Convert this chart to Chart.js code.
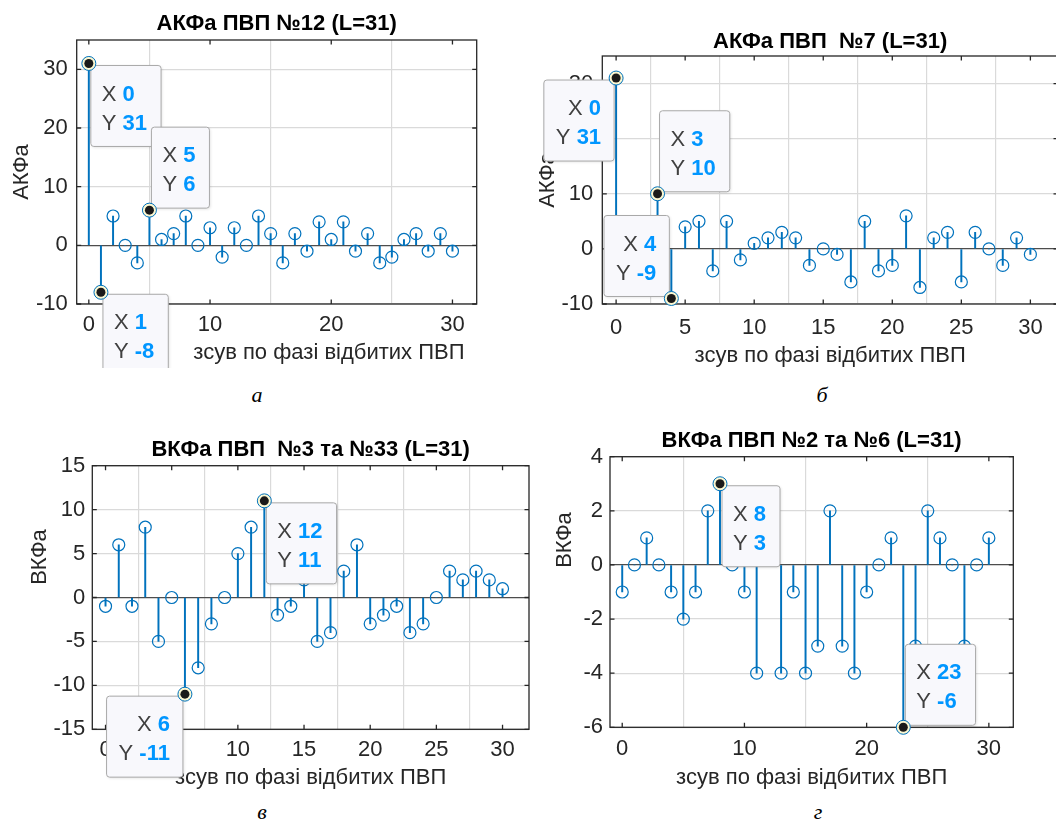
<!DOCTYPE html>
<html><head><meta charset="utf-8">
<script src="https://cdn.jsdelivr.net/npm/chart.js@4.4.1/dist/chart.umd.min.js"></script>
<style>
html,body{margin:0;padding:0;background:#fff;}
body{width:1056px;height:827px;overflow:hidden;position:relative;}
.pane{position:absolute;}
.pane canvas{display:block;}
.cap{position:absolute;font:italic 22px "Liberation Serif","Times New Roman",serif;line-height:22px;color:#000;transform:translateX(-50%);white-space:nowrap;}
</style></head><body>
<div class="pane" style="left:0;top:0"><canvas id="cA" width="530" height="368"></canvas></div>
<div class="pane" style="left:530px;top:0"><canvas id="cB" width="560" height="380"></canvas></div>
<div class="pane" style="left:0;top:410px"><canvas id="cC" width="540" height="380"></canvas></div>
<div class="pane" style="left:540px;top:410px"><canvas id="cD" width="516" height="380"></canvas></div>
<div class="cap" style="left:257px;top:384px">а</div>
<div class="cap" style="left:822px;top:384px">б</div>
<div class="cap" style="left:262px;top:801px">в</div>
<div class="cap" style="left:818px;top:801px">г</div>
<script>
// ---------------- data ----------------
const lags = [0,1,2,3,4,5,6,7,8,9,10,11,12,13,14,15,16,17,18,19,20,21,22,23,24,25,26,27,28,29,30];
const acf12 = [31,-8,5,0,-3,6,1,2,5,0,3,-2,3,0,5,2,-3,2,-1,4,1,4,-1,2,-3,-2,1,2,-1,2,-1];
const acf7  = [31,2,3,10,-9,4,5,-4,5,-2,1,2,3,2,-3,0,-1,-6,5,-4,-3,6,-7,2,3,-6,3,0,-3,2,-1];
const ccf3x33 = [-1,6,-1,8,-5,0,-11,-8,-3,0,5,8,11,-2,-1,2,-5,-4,3,6,-3,-2,-1,-4,-3,0,3,2,3,2,1];
const ccf2x6  = [-1,0,1,0,-1,-2,-1,2,3,0,-1,-4,2,-4,-1,-4,-3,2,-3,-4,-1,0,1,-6,-3,2,1,0,-3,0,1];

const xTicksA = [0,10,20,30];
const xTicksB = [0,5,10,15,20,25,30];
const xTicksC = [0,5,10,15,20,25,30];
const xTicksD = [0,10,20,30];
const yTicksA = [-10,0,10,20,30];
const yTicksB = [-10,0,10,20,30];
const yTicksC = [-15,-10,-5,0,5,10,15];
const yTicksD = [-6,-4,-2,0,2,4];

const titleA = 'АКФа ПВП №12 (L=31)';
const titleB = 'АКФа ПВП  №7 (L=31)';
const titleC = 'ВКФа ПВП  №3 та №33 (L=31)';
const titleD = 'ВКФа ПВП №2 та №6 (L=31)';
const xLabel = 'зсув по фазі відбитих ПВП';
const yLabelAcf = 'АКФа';
const yLabelCcf = 'ВКФа';

// data tips: which sample is marked
const tipsA = [{i:0, dir:'se'}, {i:5, dir:'ne'}, {i:1, dir:'se'}];
const tipsB = [{i:0, dir:'sw'}, {i:3, dir:'ne'}, {i:4, dir:'nw'}];
const tipsC = [{i:12, dir:'se'}, {i:6, dir:'sw'}];
const tipsD = [{i:8, dir:'se'}, {i:23, dir:'ne'}];

// ---------------- style ----------------
const FONT = '"Liberation Sans", Arial, Helvetica, sans-serif';
const FS = 22;
const BLUE = '#0072BD';
const GRID = '#dadada';
const BASE = '#4d4d4d';
const TXT = '#262626';
const AX = '#262626';

const framePlugin = {
  id: 'frame',
  afterDatasetsDraw(chart) {
    const {ctx, chartArea: a, scales: {x, y}} = chart;
    ctx.save();
    ctx.strokeStyle = AX; ctx.lineWidth = 1.3;
    ctx.strokeRect(a.left, a.top, a.right - a.left, a.bottom - a.top);
    const L = 4.5;
    ctx.beginPath();
    x.ticks.forEach(t => {
      const px = x.getPixelForValue(t.value);
      ctx.moveTo(px, a.bottom); ctx.lineTo(px, a.bottom - L);
      ctx.moveTo(px, a.top); ctx.lineTo(px, a.top + L);
    });
    y.ticks.forEach(t => {
      const py = y.getPixelForValue(t.value);
      ctx.moveTo(a.left, py); ctx.lineTo(a.left + L, py);
      ctx.moveTo(a.right, py); ctx.lineTo(a.right - L, py);
    });
    ctx.stroke();
    ctx.restore();
  }
};

function yLabelPlugin(text, cx, cy) {
  return {
    id: 'ylab',
    beforeDatasetsDraw(chart) {
      const {ctx, chartArea: a} = chart;
      const y0 = (cy == null) ? (a.top + a.bottom) / 2 : cy;
      ctx.save();
      ctx.translate(cx, y0);
      ctx.rotate(-Math.PI / 2);
      ctx.font = `${FS}px ${FONT}`;
      ctx.fillStyle = TXT;
      ctx.textAlign = 'center';
      ctx.textBaseline = 'middle';
      ctx.fillText(text, 0, 0);
      ctx.restore();
    }
  };
}

function drawTip(ctx, px, py, xv, yv, dir) {
  const labFont = `${FS}px ${FONT}`;
  const valFont = `bold ${FS}px ${FONT}`;
  const lines = [['X', String(xv)], ['Y', String(yv)]];
  ctx.save();
  ctx.font = labFont;
  const sp = ctx.measureText(' ').width;
  const m = lines.map(([l, v]) => {
    ctx.font = labFont; const wl = ctx.measureText(l).width;
    ctx.font = valFont; const wv = ctx.measureText(v).width;
    return {l, v, wl, wv, w: wl + sp + wv};
  });
  const tw = Math.max(...m.map(o => o.w));
  const w = tw + 25, h = 81;
  const east = dir.includes('e'), south = dir.includes('s');
  const left = east ? px + 2 : px - 2 - w;
  const top = south ? py + 2 : py - 2 - h;
  ctx.shadowColor = 'rgba(0,0,0,0.12)'; ctx.shadowBlur = 3; ctx.shadowOffsetX = 1; ctx.shadowOffsetY = 1;
  ctx.fillStyle = '#f8f8fc';
  ctx.beginPath();
  if (ctx.roundRect) ctx.roundRect(left, top, w, h, 3); else ctx.rect(left, top, w, h);
  ctx.fill();
  ctx.shadowColor = 'rgba(0,0,0,0)';
  ctx.strokeStyle = '#a9a9a9'; ctx.lineWidth = 1;
  ctx.stroke();
  ctx.textBaseline = 'middle'; ctx.textAlign = 'left';
  m.forEach((o, k) => {
    const cy = top + (k === 0 ? 29 : 58);
    const sx = east ? left + 11 : left + w - 13 - o.w;
    ctx.font = labFont; ctx.fillStyle = '#404040';
    ctx.fillText(o.l, sx, cy);
    ctx.font = valFont; ctx.fillStyle = '#0096ff';
    ctx.fillText(o.v, sx + o.wl + sp, cy);
  });
  // marker
  ctx.beginPath(); ctx.arc(px, py, 7, 0, Math.PI * 2);
  ctx.fillStyle = '#fbf7d2'; ctx.fill();
  ctx.strokeStyle = BLUE; ctx.lineWidth = 1; ctx.stroke();
  ctx.beginPath(); ctx.arc(px, py, 4.5, 0, Math.PI * 2);
  ctx.fillStyle = '#1a1a1a'; ctx.fill();
  ctx.restore();
}

function tipPlugin(tips, xs, ys) {
  return {
    id: 'tips',
    afterDraw(chart) {
      const {ctx, scales: {x, y}} = chart;
      tips.forEach(t => {
        const px = x.getPixelForValue(xs[t.i]);
        const py = y.getPixelForValue(ys[t.i]);
        drawTip(ctx, px, py, xs[t.i], ys[t.i], t.dir);
      });
    }
  };
}

function makeChart(id, p) {
  const cv = document.getElementById(id);
  const W = cv.width, H = cv.height, a = p.area, half = FS / 2;
  const tickFont = {family: FONT, size: FS, lineHeight: 1};
  return new Chart(cv, {
    type: 'scatter',
    data: { datasets: [
      { type: 'scatter', data: p.xs.map((x, i) => ({x, y: p.ys[i]})),
        pointRadius: 6, pointBorderWidth: 1.2, pointBorderColor: BLUE,
        pointBackgroundColor: 'rgba(0,0,0,0)', pointHoverRadius: 6, order: 0, clip: false },
      { type: 'bar', data: p.xs.map((x, i) => ({x, y: [0, p.ys[i]]})),
        backgroundColor: BLUE, borderWidth: 0, barThickness: 1.3, order: 1 }
    ]},
    options: {
      responsive: false, animation: false, events: [],
      layout: { padding: { left: 0, top: 0, right: W - a.right, bottom: 0 } },
      plugins: {
        legend: { display: false }, tooltip: { enabled: false },
        title: { display: true, text: p.title, fullSize: false, color: '#000',
          font: {family: FONT, size: FS, weight: 'bold', lineHeight: 1},
          padding: { top: p.titleCenter - half, bottom: a.top - p.titleCenter - half } }
      },
      scales: {
        x: { type: 'linear', min: -1, max: 32, offset: false,
          afterBuildTicks: s => { s.ticks = p.xTicks.map(v => ({value: v})); },
          afterFit: s => { s.height = H - a.bottom; },
          grid: { color: GRID, lineWidth: 1.2, drawTicks: false },
          border: { display: false },
          ticks: { autoSkip: false, maxRotation: 0, padding: p.xTickPad, color: TXT, font: tickFont, callback: v => String(v) },
          title: { display: true, text: p.xLabel, align: p.xAlign || 'center', color: TXT,
            font: {family: FONT, size: FS, lineHeight: 1},
            padding: { top: 0, bottom: H - p.xLabelCenter - half } } },
        y: { type: 'linear', min: p.yMin, max: p.yMax,
          afterBuildTicks: s => { s.ticks = p.yTicks.map(v => ({value: v})); },
          afterFit: s => { s.width = a.left; },
          grid: { color: c => (c.tick && c.tick.value === 0) ? BASE : GRID, lineWidth: 1.2, drawTicks: false },
          border: { display: false },
          ticks: { autoSkip: false, padding: p.yTickPad, color: TXT, font: tickFont, callback: v => String(v) },
          title: { display: false, text: p.yLabel } }
      }
    },
    plugins: [framePlugin, yLabelPlugin(p.yLabel, p.yLabelX, p.yLabelY), tipPlugin(p.tips, p.xs, p.ys)]
  });
}

makeChart('cA', { xs: lags, ys: acf12, xTicks: xTicksA, yTicks: yTicksA, yMin: -10, yMax: 35,
  title: titleA, xLabel: xLabel + '  ', xAlign: 'end', yLabel: yLabelAcf, tips: tipsA,
  area: {left: 76.7, top: 40, right: 476.7, bottom: 304},
  titleCenter: 24, xTickPad: 10, xLabelCenter: 353.3, yLabelX: 22, yLabelY: null, yTickPad: 9 });

makeChart('cB', { xs: lags, ys: acf7, xTicks: xTicksB, yTicks: yTicksB, yMin: -10, yMax: 35,
  title: titleB, xLabel: xLabel, yLabel: yLabelAcf, tips: tipsB,
  area: {left: 72.3, top: 56, right: 528, bottom: 304},
  titleCenter: 42, xTickPad: 12.5, xLabelCenter: 356, yLabelX: 18, yLabelY: null, yTickPad: 9 });

makeChart('cC', { xs: lags, ys: ccf3x33, xTicks: xTicksC, yTicks: yTicksC, yMin: -15, yMax: 15,
  title: titleC, xLabel: xLabel, yLabel: yLabelCcf, tips: tipsC,
  area: {left: 92.3, top: 55.7, right: 529, bottom: 319.3},
  titleCenter: 40, xTickPad: 9.7, xLabelCenter: 368, yLabelX: 40, yLabelY: 147, yTickPad: 7 });

makeChart('cD', { xs: lags, ys: ccf2x6, xTicks: xTicksD, yTicks: yTicksD, yMin: -6, yMax: 4,
  title: titleD, xLabel: xLabel, yLabel: yLabelCcf, tips: tipsD,
  area: {left: 70, top: 46.7, right: 473.3, bottom: 317.3},
  titleCenter: 31, xTickPad: 10.7, xLabelCenter: 368, yLabelX: 25, yLabelY: 130, yTickPad: 7 });
</script>
</body></html>
